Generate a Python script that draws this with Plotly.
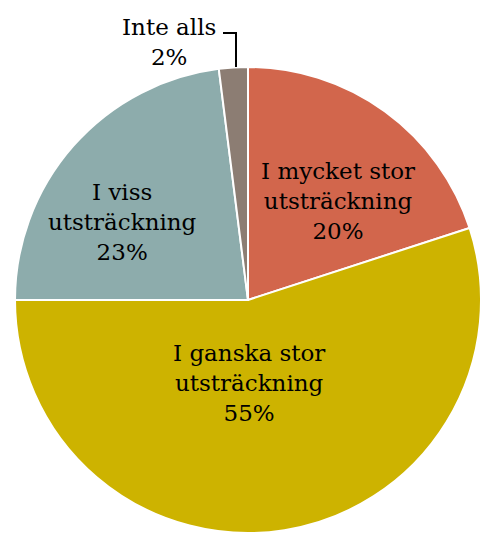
import plotly.graph_objects as go

# Survey answer categories (clockwise from 12 o'clock) and their shares in percent
categories = ["I mycket stor utsträckning", "I ganska stor utsträckning",
              "I viss utsträckning", "Inte alls"]
shares = [20, 55, 23, 2]
label_lines = [["I mycket stor", "utsträckning"],
               ["I ganska stor", "utsträckning"],
               ["I viss", "utsträckning"],
               ["Inte alls"]]
colors = ["#D2664C", "#CDB300", "#8DACAC", "#8C7D73"]

W, H = 481, 536
FONT = "DejaVu Serif"

fig = go.Figure(go.Pie(
    labels=categories,
    values=shares,
    sort=False,
    direction="clockwise",
    rotation=0,
    marker=dict(colors=colors, line=dict(color="white", width=2)),
    textinfo="none",
    hoverinfo="label+percent",
    showlegend=False,
    domain=dict(x=[15 / W, 1.0], y=[2 / H, 470 / H]),
))

# Label anchor points in pixels (x from left, y from top)
label_pos = [(338, 201), (249, 383), (122, 222), (169, 42)]
for lines, val, (px, py) in zip(label_lines, shares, label_pos):
    fig.add_annotation(
        x=px / W, y=1 - py / H, xref="paper", yref="paper",
        text="<br>".join(lines + [f"{val}%"]),
        showarrow=False, align="center",
        font=dict(family=FONT, size=23, color="#000000"),
        xanchor="center", yanchor="middle",
    )

# Leader line from the small slice to its outside label
fig.add_shape(type="path",
              path="M 223 33 L 236 33 L 236 67",
              xref="x", yref="y", line=dict(color="black", width=2))

fig.update_xaxes(range=[0, W], visible=False, fixedrange=True)
fig.update_yaxes(range=[H, 0], visible=False, fixedrange=True)

fig.update_layout(
    width=W, height=H,
    margin=dict(l=0, r=0, t=0, b=0),
    paper_bgcolor="white", plot_bgcolor="rgba(0,0,0,0)",
    xaxis=dict(domain=[0, 1]), yaxis=dict(domain=[0, 1]),
)

fig.write_html("out.html")
